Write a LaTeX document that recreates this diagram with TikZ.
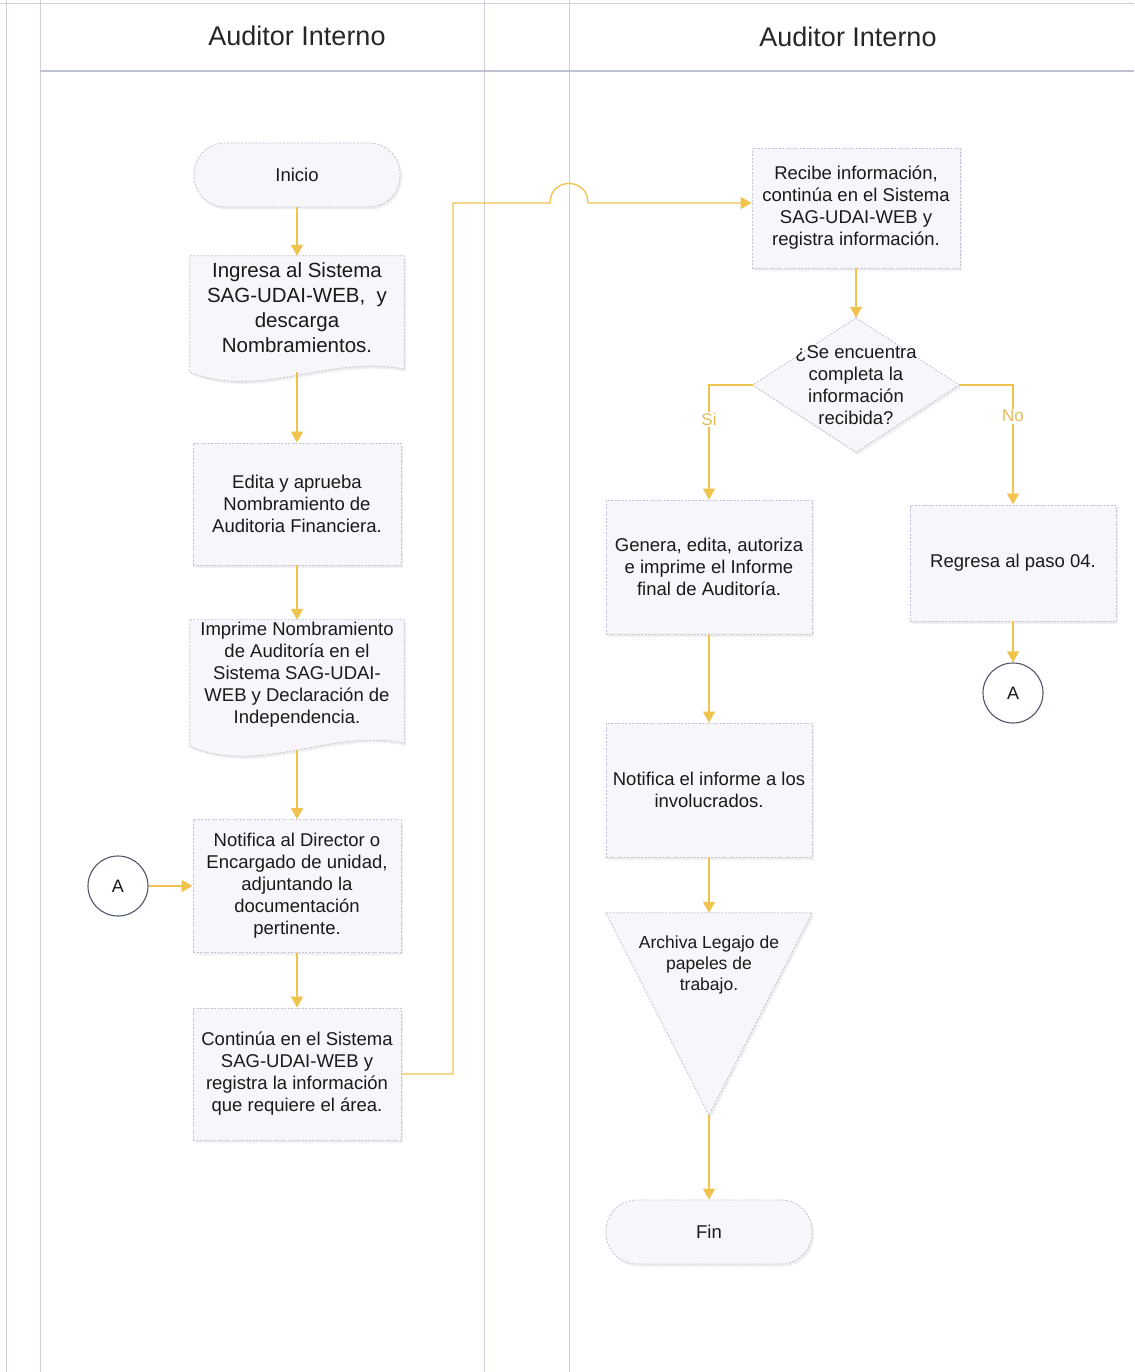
\documentclass[tikz,border=0pt]{standalone}
\usepackage{fontspec}
\setmainfont{Liberation Sans}
\usetikzlibrary{arrows.meta,calc,shadows,backgrounds}
\definecolor{boxfill}{HTML}{F6F6FB}
\definecolor{boxline}{HTML}{C4C4D2}
\definecolor{flowc}{HTML}{F0C24E}
\definecolor{lanec}{HTML}{CDD0E0}
\definecolor{headc}{HTML}{BEC1D0}
\definecolor{txt}{HTML}{1A1A1A}
\definecolor{labc}{HTML}{E3BC5A}
\definecolor{circc}{HTML}{505569}
\tikzset{
  myshadow/.style={drop shadow={shadow xshift=2pt,shadow yshift=-2.5pt,fill=black!40,opacity=0.15}},
  boxshape/.style={draw=boxline,dash pattern=on 2pt off 1.5pt,fill=boxfill,line width=0.8pt,myshadow},
  procbox/.style={boxshape,align=center,inner sep=2pt,minimum width=208pt},
  termbox/.style={boxshape,rounded corners=31pt,align=center,minimum width=206pt,minimum height=64pt},
  doctext/.style={align=center,inner sep=0pt,minimum width=214pt},
  conn/.style={circle,draw=circc,line width=1.1pt,fill=white,minimum size=60pt,inner sep=0pt,font=\fontsize{18}{20}\selectfont},
  flow/.style={draw=flowc,line width=1.3pt,-{Triangle[width=12pt,length=11pt]}},
  lab/.style={fill=white,text=labc,inner sep=1.5pt,font=\fontsize{17}{20}\selectfont},
  lane/.style={draw=lanec,line width=0.8pt},
  title/.style={font=\fontsize{27}{30}\selectfont,text=black!85}
}
\begin{document}
\begin{tikzpicture}[x=1pt,y=-1pt,font=\fontsize{18.5}{22}\selectfont,text=txt]
\useasboundingbox (0,0) rectangle (1134,1372);

% nodes
\node[termbox] (ini) at (297,175) {Inicio};
\node[doctext,minimum height=104pt,font=\fontsize{20.5}{25}\selectfont] (ing) at (297,308)
  {Ingresa al Sistema\\SAG-UDAI-WEB,\ \ y\\descarga\\Nombramientos.};
\node[procbox,minimum height=122pt] (edi) at (297,504)
  {Edita y aprueba\\Nombramiento de\\Auditoria Financiera.};
\node[doctext,minimum height=110pt] (imp) at (297,675)
  {Imprime Nombramiento\\de Auditoría en el\\Sistema SAG-UDAI-\\WEB y Declaración de\\Independencia.};
\node[procbox,minimum height=133pt] (not) at (297,886)
  {Notifica al Director o\\Encargado de unidad,\\adjuntando la\\documentación\\pertinente.};
\node[procbox,minimum height=132pt] (cont) at (297,1074)
  {Continúa en el Sistema\\SAG-UDAI-WEB y\\registra la información\\que requiere el área.};
\node[conn] (ca) at (118,886) {A};

\node[procbox,minimum height=120pt] (rec) at (856,208)
  {Recibe información,\\continúa en el Sistema\\SAG-UDAI-WEB y\\registra información.};
\node[align=center,inner sep=0pt,minimum width=206pt,minimum height=134pt] (dec) at (856,385)
  {¿Se encuentra\\completa la\\información\\recibida?};
\node[procbox,minimum width=206pt,minimum height=134pt] (gen) at (709,567)
  {Genera, edita, autoriza\\e imprime el Informe\\final de Auditoría.};
\node[procbox,minimum width=206pt,minimum height=116pt] (reg) at (1013,563)
  {Regresa al paso 04.};
\node[conn] (ca2) at (1013,693) {A};
\node[procbox,minimum width=206pt,minimum height=134pt] (ninf) at (709,790)
  {Notifica el informe a los\\involucrados.};
\node[inner sep=0pt,minimum width=206pt,minimum height=202pt] (arch) at (709,1014) {};
\node[align=center,font=\fontsize{17.5}{21}\selectfont] (archtxt) at (709,965)
  {Archiva Legajo de\\papeles de\\trabajo.};
\node[termbox] (fin) at (709,1232) {Fin};

\node[title] (h1) at (297,36) {Auditor Interno};
\node[title] (h2) at (848,37) {Auditor Interno};

% background: lanes and custom shapes
\begin{scope}[on background layer]
  \fill[white] (0,0) rectangle (1134,1372);
  \draw[lane] (6,0) -- (6,1372);
  \draw[lane] (40,0) -- (40,1372);
  \draw[lane] (484,0) -- (484,1372);
  \draw[lane] (569,0) -- (569,1372);
  \draw[lane] (0,3) -- (1134,3);
  \draw[draw=headc,line width=1.3pt] (40,71) -- (1134,71);
  % document shapes
  \path[boxshape] (ing.north west) -- (ing.north east) -- ($(ing.south east)+(0,9)$)
     .. controls ($(ing.south west)+(140,-6)$) and ($(ing.south west)+(70,40)$) .. ($(ing.south west)+(0,12)$) -- cycle;
  \path[boxshape] (imp.north west) -- (imp.north east) -- ($(imp.south east)+(0,13)$)
     .. controls ($(imp.south west)+(140,-2)$) and ($(imp.south west)+(70,46)$) .. ($(imp.south west)+(0,16)$) -- cycle;
  % decision
  \path[boxshape] (dec.north) -- (dec.east) -- (dec.south) -- (dec.west) -- cycle;
  % merge triangle
  \path[boxshape] (arch.north west) -- (arch.north east) -- (arch.south) -- cycle;
\end{scope}

% connectors
\coordinate (jx) at (453,203);
\coordinate (j3) at (550,203);
\coordinate (j4) at (588,203);
\draw[flow] (ini) -- (ing);
\draw[flow] ($(ing.south)+(0,12)$) -- (edi.north);
\draw[flow] (edi) -- (imp);
\draw[flow] ($(imp.south)+(0,20)$) -- (not.north);
\draw[flow] (not) -- (cont);
\draw[flow] (ca) -- (not);
\draw[flow] (cont.east) -| (jx) -- (j3) .. controls +(0,-26) and +(0,-26) .. (j4) -- (rec.west |- j4);
\draw[flow] (rec) -- (dec);
\draw[flow] (dec.west) -| node[lab,pos=0.65] {Si} (gen.north);
\draw[flow] (dec.east) -| node[lab,pos=0.63] {No} (reg.north);
\draw[flow] (reg) -- (ca2);
\draw[flow] (gen) -- (ninf);
\draw[flow] (ninf) -- (arch.north);
\draw[flow] (arch.south) -- (fin.north);
\end{tikzpicture}
\end{document}
